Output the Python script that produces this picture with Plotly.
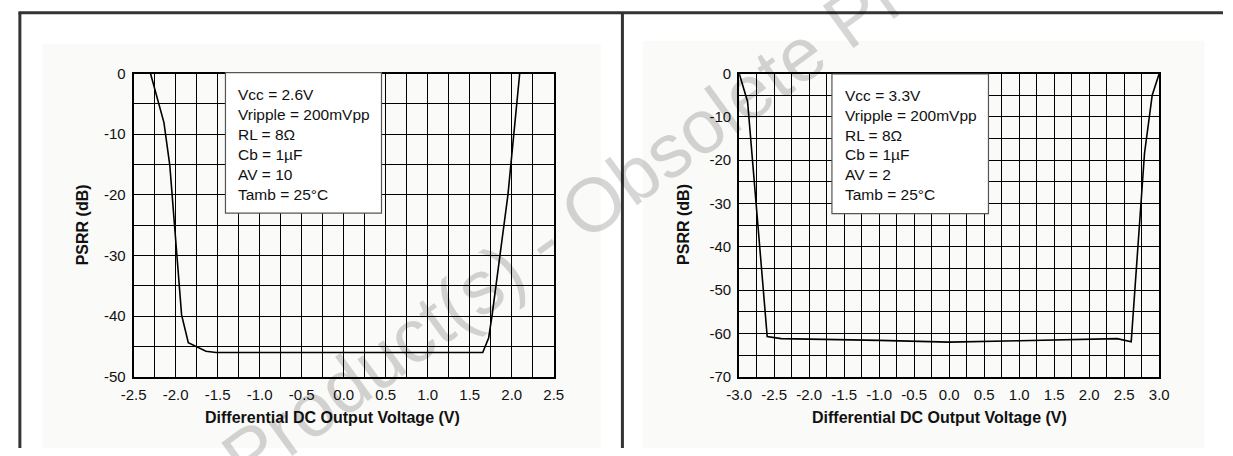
import plotly.graph_objects as go

W, H = 1233, 456

# ---------------- data ----------------
left_x = [-2.30, -2.14, -2.07, -1.93, -1.85, -1.64, -1.52, 1.655, 1.725, 1.764, 1.955, 2.095]
left_y = [0.0, -8.1, -15.2, -39.8, -44.4, -45.8, -46.0, -46.0, -43.6, -40.1, -20.0, 0.0]

right_x = [-3.0, -2.88, -2.6, -2.4, -1.0, 0.0, 1.0, 2.4, 2.6, 2.79, 2.9, 3.0]
right_y = [0.0, -6.5, -60.7, -61.2, -61.6, -62.0, -61.7, -61.2, -61.9, -18.4, -5.0, 0.0]

left_xticks = [-2.5, -2.0, -1.5, -1.0, -0.5, 0.0, 0.5, 1.0, 1.5, 2.0, 2.5]
left_xlabels = ["-2.5", "-2.0", "-1.5", "-1.0", "-0.5", "0.0", "0.5", "1.0", "1.5", "2.0", "2.5"]
left_yticks = [0, -10, -20, -30, -40, -50]
left_ylabels = ["0", "-10", "-20", "-30", "-40", "-50"]

right_xticks = [-3.0, -2.5, -2.0, -1.5, -1.0, -0.5, 0.0, 0.5, 1.0, 1.5, 2.0, 2.5, 3.0]
right_xlabels = ["-3.0", "-2.5", "-2.0", "-1.5", "-1.0", "-0.5", "0.0", "0.5", "1.0", "1.5", "2.0", "2.5", "3.0"]
right_yticks = [0, -10, -20, -30, -40, -50, -60, -70]
right_ylabels = ["0", "-10", "-20", "-30", "-40", "-50", "-60", "-70"]

left_box = ["Vcc = 2.6V", "Vripple = 200mVpp", "RL = 8Ω", "Cb = 1µF", "AV = 10", "Tamb = 25°C"]
right_box = ["Vcc = 3.3V", "Vripple = 200mVpp", "RL = 8Ω", "Cb = 1µF", "AV = 2", "Tamb = 25°C"]

x_title = "Differential DC Output Voltage (V)"
y_title = "PSRR (dB)"
watermark = "Product(s) - Obsolete Product(s)"

# ---------------- helpers ----------------
FONT = "Liberation Sans, Arial, Helvetica, sans-serif"
PANEL = "#fafaf8"


def px(x):
    return x / W


def py(y):
    return 1 - y / H


fig = go.Figure()
fig.add_trace(go.Scatter(x=left_x, y=left_y, mode="lines",
                         line=dict(color="black", width=1.6), xaxis="x", yaxis="y",
                         showlegend=False, hoverinfo="skip"))
fig.add_trace(go.Scatter(x=right_x, y=right_y, mode="lines",
                         line=dict(color="black", width=1.6), xaxis="x2", yaxis="y2",
                         showlegend=False, hoverinfo="skip"))


def xaxis(dom, rng, vals, labels, anchor):
    return dict(domain=dom, range=rng, tickmode="array", tickvals=vals, ticktext=labels,
                showgrid=True, gridcolor="black", gridwidth=1, zeroline=False,
                showline=True, linecolor="black", linewidth=2, mirror=True,
                ticks="", anchor=anchor, ticklabelstandoff=3,
                tickfont=dict(family=FONT, size=15, color="#111"),
                minor=dict(dtick=0.25, tick0=0, showgrid=True, gridcolor="black", gridwidth=1, ticks=""),
                fixedrange=True)


def yaxis(dom, rng, vals, labels, anchor):
    return dict(domain=dom, range=rng, tickmode="array", tickvals=vals, ticktext=labels,
                showgrid=True, gridcolor="black", gridwidth=1, zeroline=False,
                showline=True, linecolor="black", linewidth=2, mirror=True,
                ticks="", anchor=anchor, ticklabelstandoff=3,
                tickfont=dict(family=FONT, size=15, color="#111"),
                minor=dict(dtick=5, tick0=0, showgrid=True, gridcolor="black", gridwidth=1, ticks=""),
                fixedrange=True)


ydom = [py(382), py(67)]
fig.update_layout(
    width=W, height=H, margin=dict(l=0, r=0, t=0, b=0),
    paper_bgcolor="white", plot_bgcolor="rgba(0,0,0,0)",
    xaxis=xaxis([px(123), px(551)], [-2.5, 2.5], left_xticks, left_xlabels, "y"),
    yaxis=yaxis(ydom, [-50, 0], left_yticks, left_ylabels, "x"),
    xaxis2=xaxis([px(740), px(1168)], [-3, 3], right_xticks, right_xlabels, "y2"),
    yaxis2=yaxis(ydom, [-70, 0], right_yticks, right_ylabels, "x2"),
)

shapes = []
# panels
shapes.append(dict(type="rect", xref="paper", yref="paper", x0=px(30), x1=px(599), y0=0, y1=py(36),
                   fillcolor=PANEL, line=dict(width=0), layer="below"))
shapes.append(dict(type="rect", xref="paper", yref="paper", x0=px(642), x1=px(1214), y0=0, y1=py(33),
                   fillcolor=PANEL, line=dict(width=0), layer="below"))
# frame lines
frame = dict(color="#333333", width=3)
shapes.append(dict(type="line", xref="paper", yref="paper", x0=px(5.5), x1=1, y0=py(4), y1=py(4), line=frame))
shapes.append(dict(type="line", xref="paper", yref="paper", x0=px(7), x1=px(7), y0=0, y1=py(4), line=frame))
shapes.append(dict(type="line", xref="paper", yref="paper", x0=px(621), x1=px(621), y0=0, y1=py(4), line=frame))
# legend boxes
shapes.append(dict(type="rect", xref="paper", yref="paper", x0=px(216.5), x1=px(375.5), y0=py(212), y1=py(66),
                   fillcolor="white", line=dict(color="#555", width=1.2), layer="above"))
shapes.append(dict(type="rect", xref="paper", yref="paper", x0=px(834.5), x1=px(994), y0=py(212.5), y1=py(67.5),
                   fillcolor="white", line=dict(color="#555", width=1.2), layer="above"))
fig.update_layout(shapes=shapes)

ann = []
for i, t in enumerate(left_box):
    ann.append(dict(xref="paper", yref="paper", x=px(227), y=py(89 + 20.7 * i), text=t, showarrow=False,
                    xanchor="left", yanchor="middle", font=dict(family=FONT, size=15.5, color="#111")))
for i, t in enumerate(right_box):
    ann.append(dict(xref="paper", yref="paper", x=px(846), y=py(89.5 + 20.7 * i), text=t, showarrow=False,
                    xanchor="left", yanchor="middle", font=dict(family=FONT, size=15.5, color="#111")))
for cx in (326, 944):
    ann.append(dict(xref="paper", yref="paper", x=px(cx), y=py(424), text="<b>%s</b>" % x_title,
                    showarrow=False, xanchor="center", yanchor="middle",
                    font=dict(family=FONT, size=16, color="#111")))
for cx in (71, 683):
    ann.append(dict(xref="paper", yref="paper", x=px(cx), y=py(224), text="<b>%s</b>" % y_title,
                    showarrow=False, xanchor="center", yanchor="middle", textangle=-90,
                    font=dict(family=FONT, size=16, color="#111")))
# watermark (dark translucent so the black grid stays black underneath)
ann.append(dict(xref="paper", yref="paper", x=px(674), y=py(142), text=watermark, showarrow=False,
                xanchor="center", yanchor="middle", textangle=-36,
                font=dict(family=FONT, size=76, color="rgba(0,0,0,0.16)")))
fig.update_layout(annotations=ann)

post = (
    "var s=document.createElement('style');"
    "s.textContent='html,body{margin:0!important;padding:0!important;overflow:hidden!important;"
    "background:white;}';"
    "document.head.appendChild(s);"
    "var d=document.getElementById('{plot_id}');"
    "d.style.position='fixed';d.style.left='0px';d.style.top='0px';"
)

fig.write_html("out.html", config={"displayModeBar": False}, post_script=post)
